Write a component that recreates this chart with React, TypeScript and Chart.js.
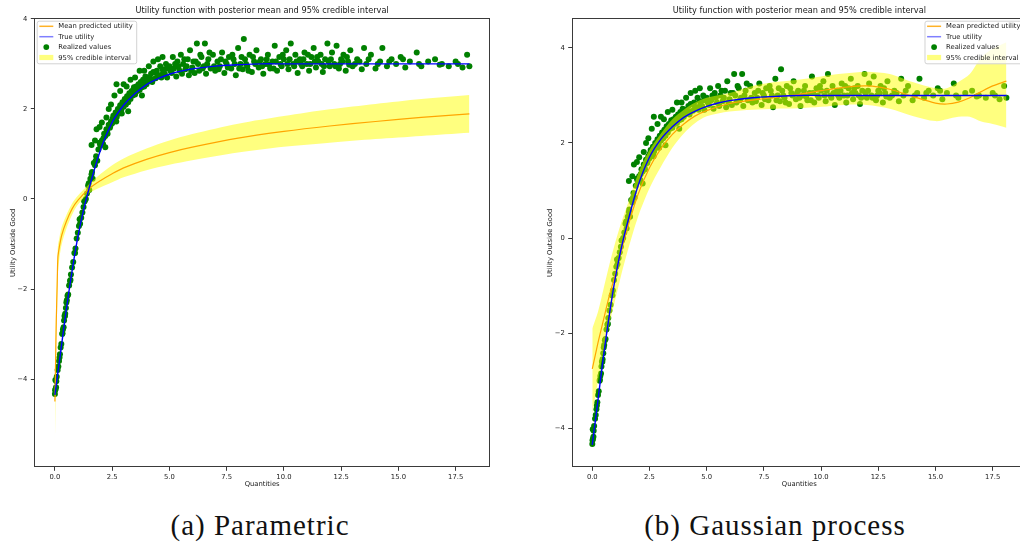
import React, { useEffect, useRef } from 'react';
import { Chart, registerables } from 'chart.js';

Chart.register(...registerables);

// ---------- text ----------
const TITLE = 'Utility function with posterior mean and 95% credible interval';
const X_LABEL = 'Quantities';
const Y_LABEL = 'Utility Outside Good';
const LEGEND_LABELS = ['Mean predicted utility', 'True utility', 'Realized values', '95% credible interval'];
const CAPTION_A = '(a) Parametric';
const CAPTION_B = '(b) Gaussian process';

// ---------- ticks ----------
const xTicks = [0, 2.5, 5, 7.5, 10, 12.5, 15, 17.5];
const yTicks = [-4, -2, 0, 2, 4];

// ---------- realized values (same sample in both panels) ----------
const realizedX = [
  0.0, 0.01, 0.02, 0.03, 0.05, 0.08, 0.12, 0.15, 0.18, 0.22, 0.25, 0.28, 0.32, 0.35, 0.38, 0.4, 0.42, 0.45, 0.48, 0.5,
  0.55, 0.58, 0.62, 0.66, 0.7, 0.75, 0.8, 0.85, 0.9, 0.95, 1.0, 1.05, 1.1, 1.15, 1.2, 1.25, 1.3, 1.35, 1.4, 1.45,
  1.5, 1.55, 1.6, 1.65, 1.7, 1.75, 1.8, 1.85, 1.9, 1.95, 2.0, 2.05, 2.1, 2.15, 2.2, 2.25, 2.3, 2.35, 2.4, 2.45,
  2.5, 2.55, 2.6, 2.65, 2.7, 2.75, 2.8, 2.85, 2.9, 2.95, 3.0, 3.05, 3.1, 3.15, 3.2, 3.25, 3.3, 3.35, 3.4, 3.45,
  3.5, 3.55, 3.6, 3.65, 3.7, 3.75, 3.8, 3.85, 3.9, 3.95, 4.0, 4.05, 4.1, 4.2, 4.25, 4.3, 4.4, 4.45, 4.5, 4.6,
  4.65, 4.7, 4.8, 4.85, 4.9, 5.0, 5.1, 5.15, 5.2, 5.3, 5.35, 5.4, 5.5, 5.55, 5.6, 5.7, 5.8, 5.85, 5.9, 6.0,
  6.05, 6.1, 6.2, 6.25, 6.3, 6.4, 6.5, 6.55, 6.6, 6.7, 6.8, 6.9, 7.0, 7.1, 7.2, 7.3, 7.4, 7.5, 7.6, 7.7,
  7.8, 7.9, 8.0, 8.1, 8.2, 8.25, 8.3, 8.4, 8.5, 8.6, 8.7, 8.8, 8.9, 9.0, 9.1, 9.2, 9.3, 9.4, 9.5, 9.6,
  9.7, 9.8, 9.9, 10.0, 10.1, 10.2, 10.3, 10.4, 10.5, 10.6, 10.7, 10.8, 10.9, 11.0, 11.1, 11.2, 11.3, 11.4, 11.5, 11.6,
  11.7, 11.8, 11.9, 12.0, 12.1, 12.2, 12.3, 12.4, 12.5, 12.6, 12.7, 12.8, 12.9, 13.0, 13.2, 13.4, 13.5, 13.6, 13.8, 14.0,
  14.2, 14.3, 14.5, 14.7, 14.9, 15.1, 15.3, 15.5, 15.8, 16.0, 16.3, 16.6, 16.9, 17.2, 17.5, 17.8, 18.0, 18.1,
  2.52, 2.68, 2.78, 2.92, 3.02, 3.18, 3.28, 3.42, 3.58, 3.68, 3.82, 3.98, 4.12, 4.28, 4.42, 4.55, 4.72, 4.88, 5.05, 5.25,
  5.45, 5.65, 5.75, 5.95, 6.15, 6.35, 6.45, 6.65, 6.75, 6.95, 7.15, 7.25, 7.45, 7.55, 7.75, 7.85, 8.05, 8.15, 8.35, 8.45,
  8.65, 8.75, 8.95, 9.05, 9.25, 9.35, 9.55, 9.65, 9.85, 9.95, 10.15, 10.25, 10.45, 10.55, 10.75, 10.85, 11.05, 11.15, 11.35, 11.45,
  11.65, 11.75, 11.95, 12.05, 12.25, 12.45, 12.55, 12.75, 12.85, 13.1, 13.3, 13.7, 14.1, 14.6, 15.2, 15.9, 16.8, 17.6,
  0.06, 0.2, 0.33, 0.44, 0.52, 0.68, 0.88, 1.08, 1.28, 1.48, 1.62, 1.78, 1.98, 2.12, 2.28, 2.42,
  1.6, 1.75, 1.82, 1.95, 2.05, 2.25, 2.35, 2.45, 2.6, 2.69, 2.85, 3.0, 3.13, 3.3, 3.5, 3.7, 3.9, 4.1, 4.3, 4.5,
  4.7, 2.2, 3.2, 3.8,
];
const realizedY = [
  -4.33, -4.25, -4.02, -4.22, -4.18, -3.95, -3.8, -3.72, -3.6, -3.45, -3.3, -3.22, -3.0, -2.9, -2.85, -2.7, -2.6, -2.55, -2.42, -2.3,
  -2.15, -2.12, -1.92, -1.82, -1.68, -1.52, -1.4, -1.2, -1.1, -0.88, -0.75, -0.6, -0.55, -0.42, -0.3, -0.18, -0.05, 0.0, 0.12, 0.3,
  0.2, 0.45, 0.55, 0.45, 0.8, 0.75, 0.95, 0.85, 1.1, 1.25, 1.2, 1.3, 1.22, 1.45, 1.4, 1.55, 1.45, 1.65, 1.58, 1.72,
  1.68, 1.85, 1.75, 1.92, 1.82, 2.0, 1.9, 2.08, 1.98, 2.15, 2.05, 2.22, 2.1, 2.28, 2.15, 2.35, 2.22, 2.4, 2.3, 2.48,
  2.32, 2.5, 2.4, 2.55, 2.42, 2.6, 2.48, 2.65, 2.5, 2.72, 2.55, 2.7, 2.62, 2.78, 2.6, 2.82, 2.68, 2.85, 2.72, 2.95,
  2.7, 2.88, 2.78, 3.0, 2.7, 2.95, 2.8, 3.15, 2.9, 2.72, 3.05, 2.95, 3.2, 2.78, 3.0, 2.88, 3.1, 2.75, 3.3, 2.92,
  3.05, 2.8, 3.45, 3.0, 2.85, 3.15, 2.95, 3.45, 2.78, 3.1, 2.9, 3.2, 2.85, 3.05, 2.95, 3.25, 2.8, 3.0, 3.15, 2.9,
  3.1, 2.75, 3.35, 3.0, 2.88, 3.55, 3.1, 2.95, 3.2, 2.82, 3.05, 3.3, 2.92, 3.1, 2.78, 3.0, 3.2, 2.9, 3.05, 3.4,
  2.85, 3.15, 2.95, 3.1, 3.3, 2.88, 3.45, 3.0, 3.2, 2.8, 3.1, 2.95, 3.25, 3.0, 2.85, 3.15, 3.35, 2.92, 3.05, 3.2,
  2.82, 3.1, 3.45, 2.95, 3.25, 3.0, 3.4, 2.9, 3.1, 3.2, 2.85, 3.05, 3.3, 2.95, 3.1, 2.88, 3.35, 3.0, 3.2, 2.9,
  3.05, 3.35, 2.95, 3.1, 3.0, 3.15, 2.92, 3.05, 3.25, 2.95, 3.05, 3.1, 3.0, 2.95, 3.05, 2.92, 3.2, 2.95,
  1.78, 1.72, 1.95, 1.9, 2.12, 2.2, 2.28, 2.38, 2.45, 2.5, 2.55, 2.6, 2.7, 2.66, 2.8, 2.75, 2.8, 2.9, 2.85, 3.0,
  2.85, 3.1, 2.95, 2.85, 3.05, 3.2, 2.9, 3.0, 3.25, 2.95, 2.88, 3.1, 3.05, 2.92, 3.2, 3.0, 2.9, 3.15, 3.0, 2.85,
  3.15, 3.0, 3.05, 2.95, 3.1, 2.98, 2.9, 3.05, 3.0, 3.2, 3.0, 3.1, 2.95, 3.05, 3.0, 3.1, 3.2, 3.0, 3.05, 3.15,
  3.0, 2.95, 3.05, 3.1, 2.95, 3.0, 3.05, 3.15, 2.98, 3.0, 3.05, 3.1, 3.0, 3.05, 3.1, 3.0, 2.98, 3.0,
  -4.05, -3.52, -2.98, -2.6, -2.25, -1.8, -1.2, -0.45, -0.05, 0.35, 0.6, 0.85, 1.2, 1.35, 1.5, 1.62,
  1.2, 1.3, 1.55, 1.6, 1.7, 1.81, 2.0, 2.1, 2.3, 2.55, 2.4, 2.55, 2.5, 2.65, 2.7, 2.85, 2.85, 2.95, 3.05, 3.1,
  3.15, 1.15, 1.95, 2.3,
];

// ---------- true utility ----------
const trueX = [0, 0.25, 0.5, 0.75, 1, 1.25, 1.5, 2, 2.5, 3, 3.5, 4, 4.5, 5, 5.5, 6, 7, 8, 9, 10, 12, 14, 16, 18.1];
const trueY = [-4.35, -3.4, -2.45, -1.6, -0.85, -0.25, 0.25, 1.1, 1.7, 2.08, 2.34, 2.54, 2.67, 2.77, 2.84, 2.89, 2.95, 2.98, 3.0, 3.0, 3.0, 3.0, 3.0, 3.0];

// ---------- (a) parametric posterior ----------
const paramX = [0, 0.03, 0.06, 0.1, 0.13, 0.2, 0.3, 0.5, 0.75, 1, 1.5, 2, 2.5, 3, 4, 5, 6, 8, 10, 12, 14, 16, 18.1];
const paramMean = [-4.5, -3.6, -2.7, -1.9, -1.3, -1.05, -0.8, -0.5, -0.22, -0.03, 0.23, 0.41, 0.56, 0.69, 0.88, 1.03, 1.15, 1.35, 1.5, 1.62, 1.72, 1.81, 1.89];
const paramUpper = [-3.9, -3.0, -2.2, -1.5, -1.05, -0.85, -0.62, -0.36, -0.1, 0.07, 0.33, 0.56, 0.75, 0.9, 1.12, 1.3, 1.44, 1.67, 1.84, 1.99, 2.11, 2.22, 2.31];
const paramLower = [-5.5, -4.3, -3.3, -2.4, -1.7, -1.3, -1.0, -0.66, -0.35, -0.13, 0.13, 0.26, 0.37, 0.48, 0.64, 0.76, 0.86, 1.03, 1.16, 1.25, 1.33, 1.4, 1.47];

// ---------- (b) Gaussian process posterior ----------
const gpX = [0, 0.25, 0.5, 0.75, 1, 1.25, 1.5, 2, 2.5, 3, 3.5, 4, 4.5, 5, 6, 7, 8, 9, 10, 11, 12, 13, 14, 15, 15.5, 16, 16.5, 17, 17.5, 18.1];
const gpMean = [-2.75, -2.2, -1.7, -1.2, -0.78, -0.3, 0.15, 0.92, 1.48, 1.88, 2.18, 2.4, 2.57, 2.68, 2.83, 2.9, 2.96, 3.02, 3.1, 3.17, 3.2, 3.13, 2.98, 2.84, 2.82, 2.86, 2.95, 3.08, 3.2, 3.3];
const gpUpper = [-1.9, -1.55, -1.05, -0.55, -0.1, 0.3, 0.65, 1.35, 1.85, 2.2, 2.5, 2.7, 2.85, 2.95, 3.05, 3.2, 3.28, 3.33, 3.4, 3.46, 3.5, 3.45, 3.28, 3.15, 3.15, 3.28, 3.45, 3.8, 3.98, 4.12];
const gpLower = [-3.7, -3.0, -2.35, -1.8, -1.3, -0.8, -0.35, 0.45, 1.05, 1.5, 1.9, 2.2, 2.42, 2.56, 2.66, 2.7, 2.72, 2.73, 2.76, 2.8, 2.8, 2.72, 2.57, 2.46, 2.5, 2.55, 2.55, 2.45, 2.4, 2.32];

// ---------- styling ----------
const FONT = '"DejaVu Sans", sans-serif';
const FRAME = '#3a3a3a';
const TEXT = '#1a1a1a';
const GREEN = '#008000';
const BAND = 'rgba(255,255,0,0.5)';
const ORANGE = '#ffa500';
const BLUE = '#0000ff';

const pts = (xs: number[], ys: number[]) => xs.map((x, i) => ({ x, y: ys[i] }));
const fmtMinus = (v: number) => String(v).replace('-', '\u2212');

type Panel = {
  mean: number[]; upper: number[]; lower: number[]; gx: number[];
  yMin: number; yMax: number; yAxisW: number; yTitlePad: number; padRight: number;
  legendSide: 'left' | 'right';
};

function decorPlugin(side: 'left' | 'right') {
  return {
    id: 'decor' + side,
    afterDraw(chart: any) {
      const { ctx, chartArea: a } = chart;
      ctx.save();
      ctx.strokeStyle = FRAME;
      ctx.lineWidth = 1;
      ctx.strokeRect(Math.round(a.left) + 0.5, Math.round(a.top) + 0.5, Math.round(a.right - a.left) - 1, Math.round(a.bottom - a.top) - 1);
      ctx.fillStyle = TEXT;
      ctx.font = `8.2px ${FONT}`;
      ctx.textAlign = 'center';
      ctx.textBaseline = 'alphabetic';
      ctx.fillText(TITLE, (a.left + a.right) / 2, a.top - 5);
      ctx.font = `6.8px ${FONT}`;
      const tw = Math.max(...LEGEND_LABELS.map((t) => ctx.measureText(t).width));
      const boxW = 21.6 + tw + 3.5;
      const boxH = 42.6;
      const bx = side === 'left' ? a.left + 2.4 : a.right - 3 - boxW;
      const by = a.top + 2.3;
      ctx.beginPath();
      (ctx as any).roundRect(bx + 0.5, by + 0.5, boxW, boxH, 2);
      ctx.fillStyle = 'rgba(255,255,255,0.8)';
      ctx.fill();
      ctx.strokeStyle = '#d2d2d2';
      ctx.lineWidth = 1;
      ctx.stroke();
      LEGEND_LABELS.forEach((label, i) => {
        const yc = by + 5.6 + i * 10.4;
        if (i === 0 || i === 1) {
          ctx.beginPath();
          ctx.moveTo(bx + 2.6, yc);
          ctx.lineTo(bx + 16.6, yc);
          ctx.strokeStyle = i === 0 ? 'rgba(255,165,0,0.85)' : 'rgba(0,0,255,0.5)';
          ctx.lineWidth = 1.5;
          ctx.stroke();
        } else if (i === 2) {
          ctx.beginPath();
          ctx.arc(bx + 9.6, yc, 2.9, 0, Math.PI * 2);
          ctx.fillStyle = GREEN;
          ctx.fill();
        } else {
          ctx.fillStyle = BAND;
          ctx.fillRect(bx + 2.6, yc - 2.6, 14, 5.2);
        }
        ctx.fillStyle = TEXT;
        ctx.textAlign = 'left';
        ctx.textBaseline = 'middle';
        ctx.fillText(label, bx + 21.6, yc + 0.3);
      });
      ctx.restore();
    },
  };
}

function buildConfig(p: Panel): any {
  const tickFont = { family: FONT, size: 6.8 };
  return {
    type: 'scatter',
    data: {
      datasets: [
        { type: 'scatter', data: pts(realizedX, realizedY), backgroundColor: GREEN, borderWidth: 0, pointRadius: 3, order: 4 },
        { type: 'line', data: pts(p.gx, p.lower), borderWidth: 0, borderColor: 'rgba(0,0,0,0)', pointRadius: 0, fill: false, tension: 0.3, order: 3 },
        { type: 'line', data: pts(p.gx, p.upper), borderWidth: 0, borderColor: 'rgba(0,0,0,0)', pointRadius: 0, fill: '-1', backgroundColor: BAND, tension: 0.3, order: 2 },
        { type: 'line', data: pts(p.gx, p.mean), borderColor: ORANGE, borderWidth: 1.2, pointRadius: 0, fill: false, tension: 0.3, order: 1 },
        { type: 'line', data: pts(trueX, trueY), borderColor: BLUE, borderWidth: 1.4, pointRadius: 0, fill: false, tension: 0.4, order: 0 },
      ],
    },
    options: {
      animation: false,
      responsive: false,
      devicePixelRatio: 1,
      layout: { padding: { left: 0, top: 18.4, right: p.padRight, bottom: 0 } },
      plugins: { legend: { display: false }, tooltip: { enabled: false }, title: { display: false } },
      scales: {
        x: {
          type: 'linear', min: -0.9, max: 19.0,
          afterBuildTicks: (s: any) => { s.ticks = xTicks.map((v) => ({ value: v })); },
          afterFit: (s: any) => { s.height = 32.7; },
          ticks: { font: tickFont, color: TEXT, padding: 2.5, maxRotation: 0, autoSkip: false, callback: (v: number) => v.toFixed(1) },
          grid: { drawOnChartArea: false, drawTicks: true, tickLength: 3.5, color: FRAME, lineWidth: 1 },
          border: { display: false },
          title: { display: true, text: X_LABEL, font: tickFont, color: TEXT, padding: { top: 0, bottom: 11.9 } },
        },
        y: {
          type: 'linear', min: p.yMin, max: p.yMax,
          afterBuildTicks: (s: any) => { s.ticks = yTicks.map((v) => ({ value: v })); },
          afterFit: (s: any) => { s.width = p.yAxisW; },
          ticks: { font: tickFont, color: TEXT, padding: 3.5, autoSkip: false, callback: (v: number) => fmtMinus(v) },
          grid: { drawOnChartArea: false, drawTicks: true, tickLength: 3.5, color: FRAME, lineWidth: 1 },
          border: { display: false },
          title: { display: true, text: Y_LABEL, font: tickFont, color: TEXT, padding: { top: p.yTitlePad, bottom: 0 } },
        },
      },
    },
    plugins: [decorPlugin(p.legendSide)],
  };
}

const panelA: Panel = {
  mean: paramMean, upper: paramUpper, lower: paramLower, gx: paramX,
  yMin: -5.96, yMax: 4.01, yAxisW: 34.3, yTitlePad: 8.9, padRight: 20, legendSide: 'left',
};
const panelB: Panel = {
  mean: gpMean, upper: gpUpper, lower: gpLower, gx: gpX,
  yMin: -4.82, yMax: 4.62, yAxisW: 51.7, yTitlePad: 25.9, padRight: 13, legendSide: 'right',
};

function ChartCanvas({ panel, left, width }: { panel: Panel; left: number; width: number }) {
  const ref = useRef<HTMLCanvasElement | null>(null);
  useEffect(() => {
    if (!ref.current) return;
    const chart = new Chart(ref.current, buildConfig(panel));
    return () => chart.destroy();
  }, [panel]);
  return (
    <canvas
      ref={ref}
      width={width}
      height={500}
      style={{ position: 'absolute', left, top: 0, width, height: 500 }}
    />
  );
}

const captionStyle: React.CSSProperties = {
  position: 'absolute',
  top: 510.7,
  width: 320,
  textAlign: 'center',
  fontFamily: '"Liberation Serif", serif',
  fontSize: 29,
  lineHeight: '29px',
  letterSpacing: 1,
  color: '#111',
  whiteSpace: 'nowrap',
};

export default function App() {
  return (
    <div style={{ position: 'fixed', left: 0, top: 0, width: 1020, height: 550, overflow: 'hidden', background: '#fff' }}>
      <ChartCanvas panel={panelA} left={0} width={510} />
      <ChartCanvas panel={panelB} left={520} width={520} />
      <div style={{ ...captionStyle, left: 100 }}>{CAPTION_A}</div>
      <div style={{ ...captionStyle, left: 615 }}>{CAPTION_B}</div>
    </div>
  );
}
